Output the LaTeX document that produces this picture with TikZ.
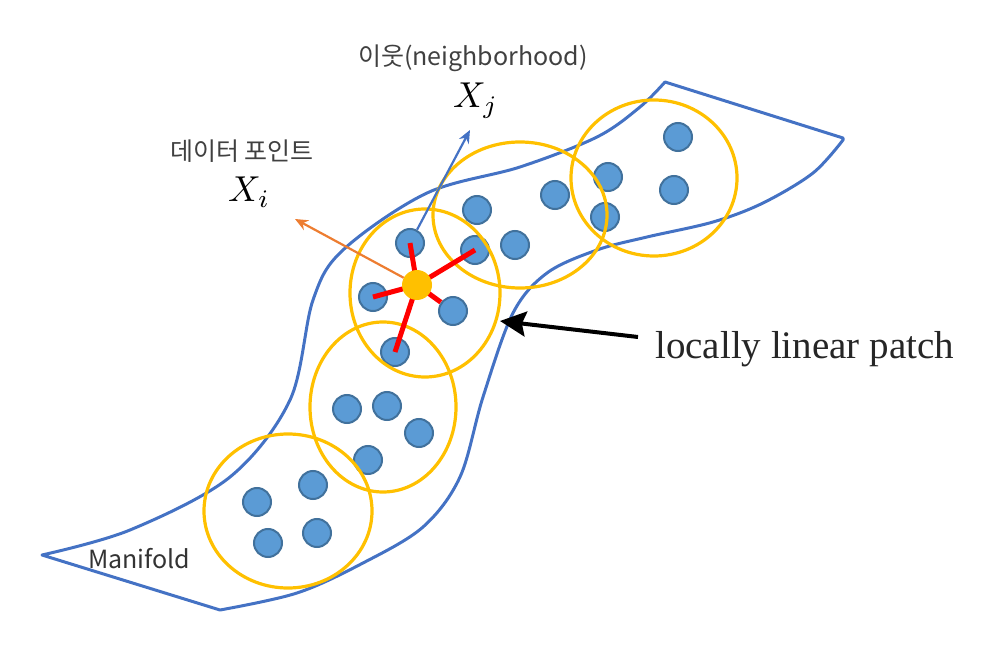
\documentclass[tikz,border=0pt]{standalone}
\usepackage{graphicx}
\usepackage{fontspec}
\usepackage{tikz}
\usetikzlibrary{arrows.meta}
\newfontfamily\kor{Noto Sans CJK KR}
\newfontfamily\cam{Liberation Serif}
\definecolor{mfblue}{HTML}{4472C4}
\definecolor{ptblue}{HTML}{5B9BD5}
\definecolor{ptedge}{HTML}{41719C}
\definecolor{patchyel}{HTML}{FFC000}
\definecolor{nbred}{HTML}{FF0000}
\definecolor{arrorange}{HTML}{ED7D31}
\definecolor{txtgray}{HTML}{404040}

\begin{document}
\begin{tikzpicture}[x=1pt, y=-1pt,
  pt/.style={circle, draw=ptedge, fill=ptblue, line width=2pt, minimum size=28pt, inner sep=0pt},
  ctr/.style={circle, fill=patchyel, minimum size=30pt, inner sep=0pt},
  patch/.style={draw=patchyel, line width=3.2pt},
  nbedge/.style={draw=nbred, line width=5pt},
  lbl/.style={text=txtgray, font=\kor\fontsize{25}{30}\selectfont, inner sep=0pt, anchor=base west},
  xlbl/.style={inner sep=0pt, anchor=base west}]
\useasboundingbox (0,0) rectangle (999,663);
\draw[mfblue, line width=3pt, line join=round]
  plot[smooth, tension=0.55] coordinates {(42,555) (130,530) (230,477) (290,400) (313,300) (343,250) (427,193) (520,167) (597,137) (640,107) (665,82)}
  -- (843,138)
  -- plot[smooth, tension=0.55] coordinates {(843,140) (813,173) (763,203) (713,222) (647,237) (597,250) (547,273) (513,313) (483,397) (460,477) (423,527) (363,563) (297,593) (220,610)}
  -- cycle;
\foreach \n/\x/\y in {b1/257/502, b2/313/485, b3/268/543, b4/317/533,
    m1/347/409, m2/387/406, m3/419/433, m4/368/460,
    n1/410/243, n2/373/297, n3/475/250, n4/453/311, n5/395/352,
    u1/477/210, u2/515/245, u3/555/195, u4/608/177, u5/605/217,
    r1/678/137, r2/674/190}
  \node[pt] (\n) at (\x,\y) {};
\draw[patch] (288,511) ellipse [x radius=84pt, y radius=77pt];
\draw[patch] (383,407) ellipse [x radius=73pt, y radius=85pt];
\draw[patch] (425,293) ellipse [x radius=75pt, y radius=84pt];
\draw[patch] (520,215) ellipse [x radius=87pt, y radius=73pt];
\draw[patch] (654,178) ellipse [x radius=83pt, y radius=78pt];
\coordinate (c0) at (417,285);
\foreach \n in {n1, n2, n3, n5}
  \draw[nbedge] (c0) -- (\n.center);
\draw[nbedge] (c0) -- (n4);
\node[ctr] (c) at (c0) {};
\coordinate (itip) at (295,219);
\coordinate (jtip) at (470,130);
\draw[arrorange, line width=2.2pt, -{Stealth[length=13pt, width=11pt]}] (c) -- (itip);
\draw[mfblue, line width=2.2pt, -{Stealth[length=13pt, width=11pt]}] (n1) -- (jtip);
\coordinate (pstart) at (638,337);
\coordinate (pend) at (500,321);
\draw[black, line width=4pt, -{Stealth[length=26pt, width=25pt, inset=4pt]}] (pstart) -- (pend);
\node[lbl] (dpt) at (170,161) {데이터 포인트};
\node[xlbl] (xi) at (228,202) {\scalebox{3.6}{$X_i$}};
\node[lbl] (nbh) at (358,66) {이웃(neighborhood)};
\node[xlbl] (xj) at (453,108) {\scalebox{3.6}{$X_j$}};
\node[lbl, text=black!80] (mf) at (88,568) {Manifold};
\node[font=\cam\fontsize{39}{44}\selectfont, text=black!85, inner sep=0pt, anchor=base west] (llp) at (655,358) {locally linear patch};
\end{tikzpicture}
\end{document}
